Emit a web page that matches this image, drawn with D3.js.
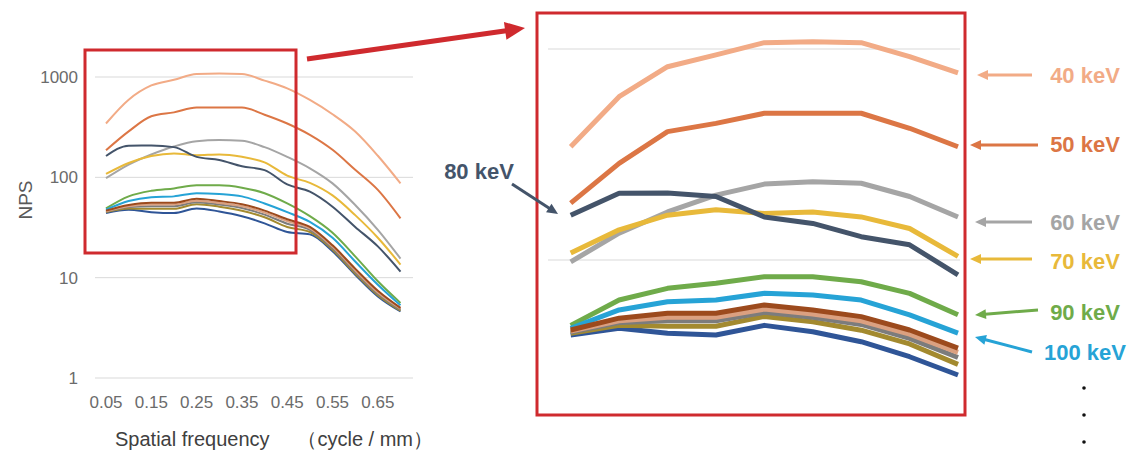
<!DOCTYPE html>
<html>
<head>
<meta charset="utf-8">
<script src="https://cdn.jsdelivr.net/npm/d3@7"></script>
<style>
  body { margin: 0; background: #fff; }
  svg { display: block; font-family: "Liberation Sans", Arial, sans-serif; }
</style>
</head>
<body>
<div id="chart"></div>
<script>
// spatial frequency (cycle/mm)
const freq = [0.05, 0.10, 0.15, 0.20, 0.25, 0.30, 0.35, 0.40, 0.45, 0.50, 0.55, 0.60, 0.65, 0.70];

// NPS per energy
const kev40  = [344, 594, 824, 938, 1072, 1083, 1072, 920, 770, 590, 425, 286, 164, 87];
const kev50  = [186, 287, 406, 444, 496, 496, 496, 421, 344, 265, 188, 119, 75, 39];
const kev60  = [98, 134, 169, 203, 229, 235, 231, 200, 160, 123, 87, 53, 30, 15.5];
const kev70  = [108, 139, 163, 173, 166, 169, 160, 141, 104, 88, 66, 42, 25, 13.5];
const kev80  = [163, 207, 208, 200, 160, 149, 129, 118, 85, 72, 51, 32, 20.5, 11.5];
const kev90  = [49, 64.6, 73.4, 77.6, 83.3, 83.3, 78.9, 69.5, 55, 41, 28, 16.3, 9.2, 5.6];
const kev100 = [47.5, 58, 63.4, 64.6, 69.5, 68.2, 64.6, 54.9, 45, 36, 25, 14.5, 8.5, 5.3];
const kev110 = [46.6, 53, 55.9, 55.9, 61.2, 58, 53.9, 46.6, 38.2, 32, 21, 12.3, 7.4, 5.0];
const kev120 = [46, 51.5, 53.5, 53.5, 58.5, 55.5, 51.5, 44.5, 36.5, 31, 20.3, 11.8, 7.1, 4.9];
const kev130 = [45.5, 50.5, 51.5, 51.5, 56.5, 53.5, 49.5, 42.5, 34.5, 30, 19.6, 11.4, 6.9, 4.8];
const kev140 = [45, 49, 48.5, 48.5, 54, 51, 46.5, 40, 32, 28.5, 19, 11, 6.7, 4.7];
const kev150 = [44.1, 47.5, 45, 44.1, 49, 45.7, 41, 34.8, 28.5, 27, 18.3, 10.7, 6.5, 4.6];

const xTickLabels = ["0.05", "0.15", "0.25", "0.35", "0.45", "0.55", "0.65"];
const yTicks = [1, 10, 100, 1000];
const zoomTicks = [100, 1000];
const zoomMax = 0.45;

// series (drawing order) with their colours
const series = [
  { name: "40 keV",  values: kev40,  color: "#f2ab86" },
  { name: "50 keV",  values: kev50,  color: "#dc7645" },
  { name: "60 keV",  values: kev60,  color: "#a5a5a5" },
  { name: "70 keV",  values: kev70,  color: "#e8b93a" },
  { name: "80 keV",  values: kev80,  color: "#44546a" },
  { name: "90 keV",  values: kev90,  color: "#6fab4a" },
  { name: "100 keV", values: kev100, color: "#26a3d6" },
  { name: "150 keV", values: kev150, color: "#2f5597" },
  { name: "140 keV", values: kev140, color: "#a38a2f" },
  { name: "130 keV", values: kev130, color: "#7c7c7c" },
  { name: "120 keV", values: kev120, color: "#dba080" },
  { name: "110 keV", values: kev110, color: "#9c4a1d" }
];

// labelled series on the zoom panel
const rightLabels = [
  { text: "40 keV",  color: "#f2ab86", ty: 75,  ax1: 1032, ay1: 75,  ax2: 977, ay2: 75 },
  { text: "50 keV",  color: "#dc7645", ty: 144, ax1: 1038, ay1: 145, ax2: 970, ay2: 145 },
  { text: "60 keV",  color: "#a5a5a5", ty: 222, ax1: 1032, ay1: 222, ax2: 975, ay2: 222 },
  { text: "70 keV",  color: "#e8b93a", ty: 261, ax1: 1032, ay1: 259, ax2: 970, ay2: 259 },
  { text: "90 keV",  color: "#6fab4a", ty: 312, ax1: 1038, ay1: 310, ax2: 975, ay2: 315 },
  { text: "100 keV", color: "#26a3d6", ty: 352, ax1: 1032, ay1: 352, ax2: 975, ay2: 337 }
];

const width = 1134;
const height = 455;
const red = "#cf2a2e";
const gridColor = "#d9d9d9";
const tickColor = "#6b6b6b";

const svg = d3.select("#chart").append("svg")
  .attr("width", width)
  .attr("height", height)
  .attr("viewBox", `0 0 ${width} ${height}`);

// ---- left chart ----
const xL = d3.scaleLinear().domain([0.05, 0.70]).range([106, 400.5]);
const yL = d3.scaleLog().domain([1, 1000]).range([378, 77]);

const left = svg.append("g");

left.append("g").selectAll("line")
  .data(yTicks)
  .enter().append("line")
  .attr("x1", 95).attr("x2", 413)
  .attr("y1", d => yL(d)).attr("y2", d => yL(d))
  .attr("stroke", gridColor).attr("stroke-width", 1);

left.append("g").selectAll("text")
  .data(yTicks)
  .enter().append("text")
  .attr("x", 78)
  .attr("y", d => yL(d) + 6)
  .attr("text-anchor", "end")
  .attr("font-size", 17)
  .attr("fill", tickColor)
  .text(d => d);

left.append("g").selectAll("text")
  .data(xTickLabels)
  .enter().append("text")
  .attr("x", d => xL(+d))
  .attr("y", 408)
  .attr("text-anchor", "middle")
  .attr("font-size", 17)
  .attr("fill", tickColor)
  .text(d => d);

left.append("text")
  .attr("transform", "translate(32,200) rotate(-90)")
  .attr("text-anchor", "middle")
  .attr("font-size", 19)
  .attr("fill", "#595959")
  .text("NPS");

left.append("text")
  .attr("x", 115).attr("y", 446)
  .attr("font-size", 20)
  .attr("fill", "#404040")
  .text("Spatial frequency");

left.append("text")
  .attr("x", 433).attr("y", 446)
  .attr("text-anchor", "end")
  .attr("font-size", 20)
  .attr("fill", "#404040")
  .text("（cycle / mm）");

// smoothed lines on the overview chart
const lineL = d3.line()
  .curve(d3.curveMonotoneX)
  .x((d, i) => xL(freq[i]))
  .y(d => yL(d));

left.append("g").selectAll("path")
  .data(series)
  .enter().append("path")
  .attr("d", d => lineL(d.values))
  .attr("fill", "none")
  .attr("stroke", d => d.color)
  .attr("stroke-width", 2)
  .attr("stroke-linejoin", "round");

// red box over the left chart
svg.append("rect")
  .attr("x", 85).attr("y", 50)
  .attr("width", 211).attr("height", 203)
  .attr("fill", "none")
  .attr("stroke", red).attr("stroke-width", 3);

// ---- zoom panel ----
const nZoom = freq.filter(f => f <= zoomMax + 1e-9).length;
const xR = d3.scaleLinear().domain([0.05, zoomMax]).range([570.7, 958]);
const yR = d3.scaleLog().domain([100, 1000]).range([260, 49]);

const right = svg.append("g");

right.append("g").selectAll("line")
  .data(zoomTicks)
  .enter().append("line")
  .attr("x1", 548).attr("x2", 960)
  .attr("y1", d => yR(d)).attr("y2", d => yR(d))
  .attr("stroke", gridColor).attr("stroke-width", 1);

const lineR = d3.line()
  .x((d, i) => xR(freq[i]))
  .y(d => yR(d));

right.append("g").selectAll("path")
  .data(series)
  .enter().append("path")
  .attr("d", d => lineR(d.values.slice(0, nZoom)))
  .attr("fill", "none")
  .attr("stroke", d => d.color)
  .attr("stroke-width", 5)
  .attr("stroke-linejoin", "round");

svg.append("rect")
  .attr("x", 537).attr("y", 13)
  .attr("width", 428).attr("height", 402)
  .attr("fill", "none")
  .attr("stroke", red).attr("stroke-width", 3);

// arrows
function arrow(x1, y1, x2, y2, color, w, headLen, headW) {
  const a = Math.atan2(y2 - y1, x2 - x1);
  const bx = x2 - headLen * Math.cos(a);
  const by = y2 - headLen * Math.sin(a);
  const px = Math.sin(a) * headW / 2;
  const py = -Math.cos(a) * headW / 2;
  svg.append("line")
    .attr("x1", x1).attr("y1", y1)
    .attr("x2", bx + Math.cos(a)).attr("y2", by + Math.sin(a))
    .attr("stroke", color).attr("stroke-width", w);
  svg.append("path")
    .attr("d", `M${x2},${y2}L${bx + px},${by + py}L${bx - px},${by - py}Z`)
    .attr("fill", color);
}

arrow(307, 59, 525, 28, red, 5, 20, 18);

rightLabels.forEach(l => {
  arrow(l.ax1, l.ay1, l.ax2, l.ay2, l.color, 3, 11, 10);
  svg.append("text")
    .attr("x", 1085).attr("y", l.ty + 8)
    .attr("text-anchor", "middle")
    .attr("font-size", 22)
    .attr("font-weight", "bold")
    .attr("fill", l.color)
    .text(l.text);
});

svg.append("text")
  .attr("x", 479).attr("y", 179)
  .attr("text-anchor", "middle")
  .attr("font-size", 22)
  .attr("font-weight", "bold")
  .attr("fill", "#44546a")
  .text("80 keV");
arrow(512, 184, 558, 214, "#44546a", 3, 11, 10);

svg.append("g").selectAll("circle")
  .data([388, 415, 442])
  .enter().append("circle")
  .attr("cx", 1084).attr("cy", d => d)
  .attr("r", 1.8)
  .attr("fill", "#111");
</script>
</body>
</html>
